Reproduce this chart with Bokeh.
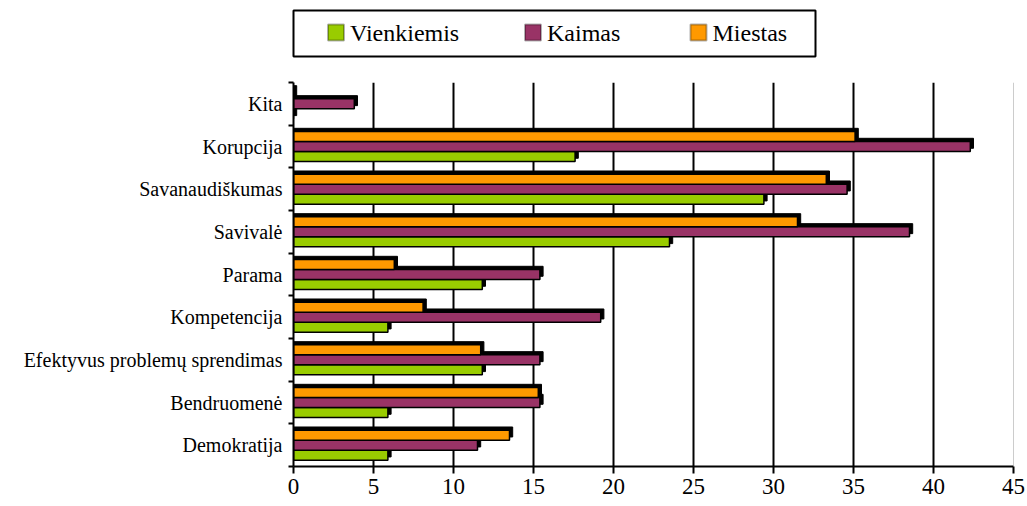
from bokeh.plotting import figure
from bokeh.models import (Range1d, FixedTicker, ColumnDataSource, Span, Label,
                          BoxAnnotation)
from bokeh.layouts import column
from bokeh.transform import dodge
from bokeh.embed import file_html
from bokeh.resources import INLINE

# ---- data ----
categories = ["Demokratija", "Bendruomenė", "Efektyvus problemų sprendimas",
              "Kompetencija", "Parama", "Savivalė", "Savanaudiškumas",
              "Korupcija", "Kita"]
series_names = ["Vienkiemis", "Kaimas", "Miestas"]
vienkiemis = [5.9, 5.9, 11.8, 5.9, 11.8, 23.5, 29.4, 17.6, 0.0]
kaimas = [11.5, 15.4, 15.4, 19.2, 15.4, 38.5, 34.6, 42.3, 3.8]
miestas = [13.5, 15.3, 11.7, 8.1, 6.3, 31.5, 33.3, 35.1, 0.0]
x_ticks = [0, 5, 10, 15, 20, 25, 30, 35, 40, 45]

# ---- styling ----
colors = ["#99CC00", "#993366", "#FF9900"]
FONT = "Liberation Serif"
BAR_H = 0.234          # bar thickness in band units
DEPTH_X = 0.2          # 3-D depth, x units
DEPTH_Y = 0.075        # 3-D depth, band units
LEGEND_SWATCH_LEFT = [34.5, 231.5, 397.0]   # screen px inside legend box
SWATCH = 16
LEGEND_MID = 24

idx = list(range(len(categories)))

# ---------------- main chart ----------------
p = figure(width=1027, height=442, output_backend="svg", toolbar_location=None,
           x_range=Range1d(x_ticks[0], x_ticks[-1]),
           y_range=Range1d(-0.5, len(categories) - 0.5),
           min_border_left=270, min_border_right=14,
           min_border_top=18, min_border_bottom=40)
p.outline_line_color = None
p.background_fill_color = "white"
p.border_fill_color = "white"

series_values = [vienkiemis, kaimas, miestas]
offsets = [-BAR_H, 0.0, BAR_H]

sources = []
for vals in series_values:
    sources.append(ColumnDataSource(dict(
        idx=idx, val=vals, val_d=[v + DEPTH_X for v in vals])))

# shadows (3-D depth) first
for src, off in zip(sources, offsets):
    p.hbar(y=dodge("idx", off + DEPTH_Y), left=0, right="val_d", height=BAR_H,
           source=src, fill_color="black", line_color="black", line_width=1)

# faces
for src, off, col in zip(sources, offsets, colors):
    p.hbar(y=dodge("idx", off), left=0, right="val", height=BAR_H,
           source=src, fill_color=col, line_color="black", line_width=1.5)

# grid
p.ygrid.visible = False
p.xgrid.ticker = FixedTicker(ticks=x_ticks[1:-1])
p.xgrid.grid_line_color = "black"
p.xgrid.grid_line_width = 2
p.add_layout(Span(location=x_ticks[-1], dimension="height",
                  line_color="#9a9a9a", line_width=1))

# x axis
xa = p.xaxis[0]
xa.ticker = FixedTicker(ticks=x_ticks)
xa.axis_line_color = "black"
xa.axis_line_width = 2
xa.major_tick_line_color = "black"
xa.major_tick_line_width = 2
xa.major_tick_out = 7
xa.major_tick_in = 0
xa.minor_tick_line_color = None
xa.major_label_text_font = FONT
xa.major_label_text_font_size = "23px"
xa.major_label_text_color = "black"
xa.major_label_standoff = 5

# y axis
ya = p.yaxis[0]
ya.ticker = FixedTicker(ticks=idx, minor_ticks=[i - 0.5 for i in range(len(categories) + 1)])
ya.major_label_overrides = {i: c for i, c in zip(idx, categories)}
ya.axis_line_color = "black"
ya.axis_line_width = 2
ya.major_tick_line_color = None
ya.major_tick_out = 0
ya.major_tick_in = 0
ya.minor_tick_line_color = "black"
ya.minor_tick_line_width = 2
ya.minor_tick_out = 5
ya.minor_tick_in = 0
ya.major_label_text_font = FONT
ya.major_label_text_font_size = "20px"
ya.major_label_text_color = "black"
ya.major_label_standoff = 6

# ---------------- legend strip (box = frame of a small figure) ----------------
lg = figure(width=829, height=64, output_backend="svg", toolbar_location=None,
            x_axis_location=None, y_axis_location=None,
            x_range=Range1d(0, 1), y_range=Range1d(0, 1),
            min_border_left=293, min_border_right=0,
            min_border_top=10, min_border_bottom=8)
lg.xgrid.visible = False
lg.ygrid.visible = False
lg.outline_line_color = "black"
lg.outline_line_width = 2
lg.background_fill_color = "white"
lg.border_fill_color = "white"

for name, col, sx in zip(series_names, colors, LEGEND_SWATCH_LEFT):
    lg.add_layout(BoxAnnotation(left=sx, right=sx + SWATCH,
                                bottom=LEGEND_MID - SWATCH / 2, top=LEGEND_MID + SWATCH / 2,
                                left_units="screen", right_units="screen",
                                bottom_units="screen", top_units="screen",
                                fill_color=col, fill_alpha=1.0,
                                line_color="black", line_width=2))
    lg.add_layout(Label(x=sx + SWATCH + 6, y=LEGEND_MID, x_units="screen", y_units="screen",
                        text=name, text_font=FONT, text_font_size="24px",
                        text_color="black", text_baseline="middle", text_align="left"))

layout = column(lg, p, spacing=0)
open("out.html", "w").write(file_html(layout, INLINE))
